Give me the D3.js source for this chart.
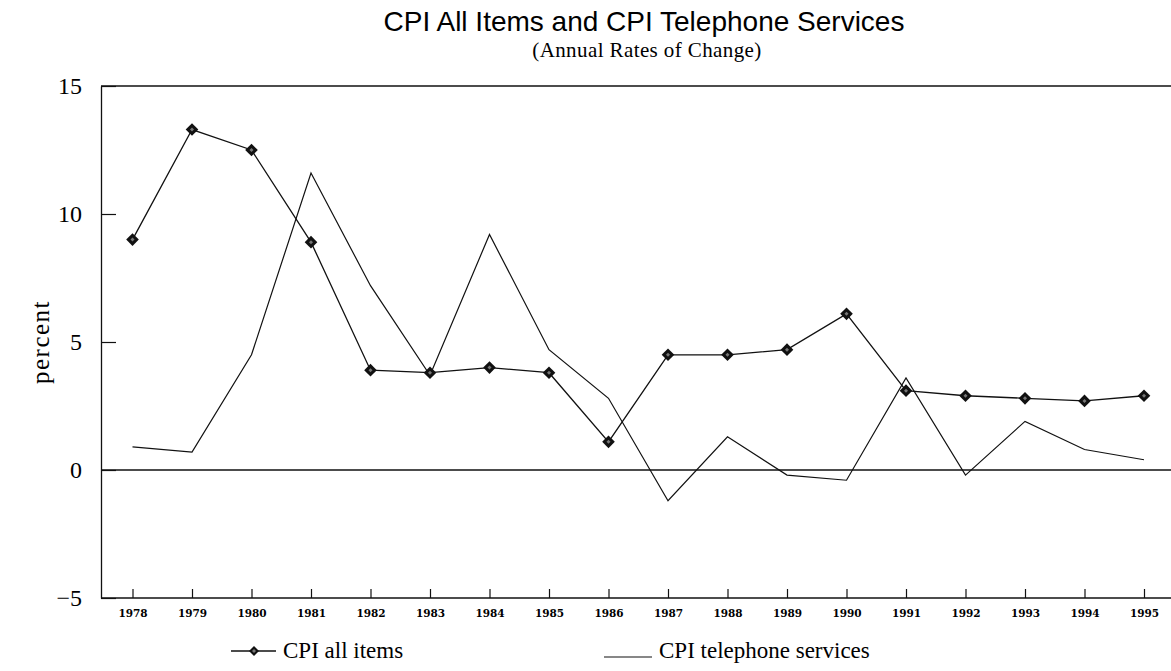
<!DOCTYPE html>
<html><head><meta charset="utf-8">
<script src="https://cdn.jsdelivr.net/npm/d3@7"></script>
<style>
html,body{margin:0;padding:0;background:#fff;}
svg{display:block;}
</style></head>
<body>
<svg id="chart" width="1171" height="671"></svg>
<script>
const years = [1978,1979,1980,1981,1982,1983,1984,1985,1986,1987,1988,1989,1990,1991,1992,1993,1994,1995];
const cpiAll = [9.0,13.3,12.5,8.9,3.9,3.8,4.0,3.8,1.1,4.5,4.5,4.7,6.1,3.1,2.9,2.8,2.7,2.9];
const cpiPhone = [0.9,0.7,4.5,11.6,7.2,3.7,9.2,4.7,2.8,-1.2,1.3,-0.2,-0.4,3.6,-0.2,1.9,0.8,0.4];
const yTicks = [-5,0,5,10,15];
const titleText = "CPI All Items and CPI Telephone Services";
const subtitleText = "(Annual Rates of Change)";
const yLabel = "percent";
const legendLabels = ["CPI all items","CPI telephone services"];

(function(){
const plotL = 101, plotR = 1171, plotT = 86, plotB = 598;
const svg = d3.select("#chart");

const x = d3.scaleLinear().domain([years[0], years[years.length-1]]).range([132.5, 1144]);
const y = d3.scaleLinear().domain([-5, 15]).range([plotB, plotT]);

const ink = "#111";

// frame lines
[15, 0, -5].forEach(v => {
  svg.append("line").attr("x1",plotL).attr("x2",plotR).attr("y1",y(v)).attr("y2",y(v)).attr("stroke",ink).attr("stroke-width",1.3);
});

// y axis
const yAxis = svg.append("g").attr("transform",`translate(${plotL},0)`)
  .call(d3.axisLeft(y).tickValues(yTicks).tickSizeInner(-15).tickSizeOuter(0).tickPadding(19).tickFormat(d3.format("d")));
yAxis.select(".domain").attr("stroke",ink).attr("stroke-width",1.3);
yAxis.selectAll(".tick line").attr("stroke",ink).attr("stroke-width",1.2);
yAxis.selectAll(".tick text").attr("font-family","'Liberation Serif', serif").attr("font-size",24).attr("fill","#000");

// x axis
const xAxis = svg.append("g").attr("transform",`translate(0,${plotB})`)
  .call(d3.axisBottom(x).tickValues(years).tickSizeInner(-9).tickSizeOuter(0).tickPadding(12).tickFormat(d3.format("d")));
xAxis.select(".domain").remove();
xAxis.selectAll(".tick line").attr("stroke",ink).attr("stroke-width",1.2);
xAxis.selectAll(".tick text").attr("font-family","'DejaVu Serif', serif").attr("font-weight","bold").attr("font-size",10.5).attr("fill","#000");

// lines
const line = d3.line().x((d,i)=>x(years[i])).y(d=>y(d));
svg.append("path").datum(cpiPhone).attr("d",line).attr("fill","none").attr("stroke",ink).attr("stroke-width",1.2);
svg.append("path").datum(cpiAll).attr("d",line).attr("fill","none").attr("stroke",ink).attr("stroke-width",1.3);

// markers
const outer = d3.symbol().type(d3.symbolSquare).size(80);
const inner = d3.symbol().type(d3.symbolSquare).size(8);
const mk = svg.append("g").selectAll("g").data(cpiAll).join("g")
  .attr("transform",(d,i)=>`translate(${x(years[i])},${y(d)}) rotate(45)`);
mk.append("path").attr("d",outer).attr("fill","#111");
mk.append("path").attr("d",inner).attr("fill","#777");

// title
svg.append("text").attr("x",644).attr("y",31).attr("text-anchor","middle")
  .attr("font-family","'Liberation Sans', Arial, sans-serif").attr("font-size",28).attr("fill","#000").text(titleText);
svg.append("text").attr("x",647).attr("y",57).attr("text-anchor","middle")
  .attr("font-family","'Liberation Serif', serif").attr("font-size",21).attr("letter-spacing",0.4).attr("fill","#000").text(subtitleText);

// y label
svg.append("text").attr("transform",`translate(49,${y(5)}) rotate(-90)`).attr("text-anchor","middle")
  .attr("font-family","'Liberation Serif', serif").attr("font-size",25).attr("letter-spacing",1.5).attr("fill","#000").text(yLabel);

// legend
const lg = svg.append("g");
const ly = 651;
lg.append("line").attr("x1",231).attr("x2",276).attr("y1",ly).attr("y2",ly).attr("stroke",ink).attr("stroke-width",1.3);
const lm = lg.append("g").attr("transform",`translate(254,${ly}) rotate(45)`);
lm.append("path").attr("d",d3.symbol().type(d3.symbolSquare).size(50)).attr("fill","#111");
lm.append("path").attr("d",inner).attr("fill","#777");
lg.append("text").attr("x",283).attr("y",ly+7).attr("font-family","'Liberation Serif', serif").attr("font-size",23).attr("fill","#000").text(legendLabels[0]);
lg.append("line").attr("x1",604).attr("x2",652).attr("y1",ly+6).attr("y2",ly+6).attr("stroke",ink).attr("stroke-width",1.2);
lg.append("text").attr("x",659).attr("y",ly+7).attr("font-family","'Liberation Serif', serif").attr("font-size",23).attr("fill","#000").text(legendLabels[1]);
})();
</script>
</body></html>
